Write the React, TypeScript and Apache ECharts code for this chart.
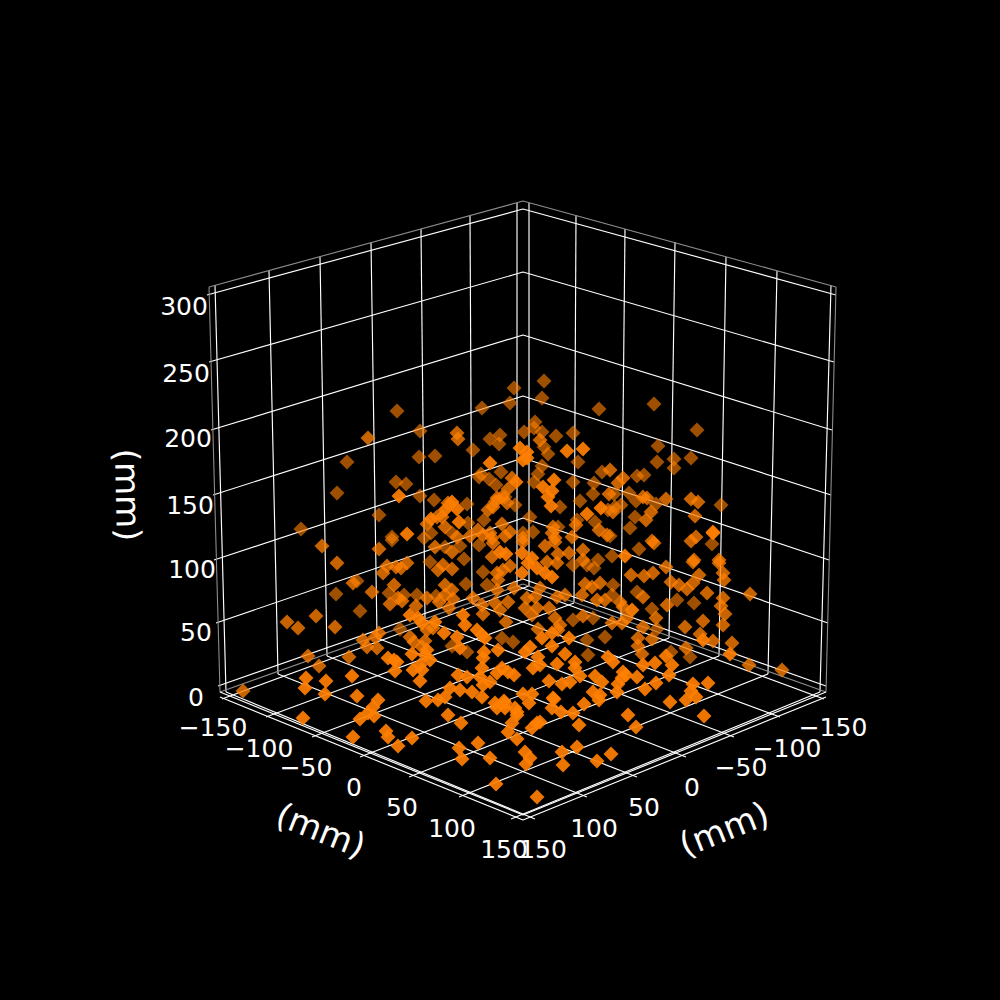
import React, { useEffect, useRef } from "react";
import * as echarts from "echarts";

// Points as they appear in the projected view (page-scale units), grouped by depth shading.
const farPoints: number[][] = [
  [397,411],[420,431],[347,462],[419,457],[435,456],[396,482],[406,484],[337,493],[420,496],[434,500],[379,515],[301,529],[392,537],[424,538],[431,533],
  [544,381],[514,388],[542,398],[510,403],[482,408],[599,409],[535,422],[534,428],[524,432],[542,432],[556,436],[573,433],[490,439],[500,435],[499,444],[473,450],[544,447],[548,454],[578,462],[501,472],[481,474],[479,477],[489,479],[496,485],[542,466],[538,474],[534,482],[573,482],[594,483],[602,472],[593,494],[580,501],[560,507],[505,497],[515,505],[484,520],[467,504],[468,523],[452,533],[530,517],[533,532],[523,533],[558,527],[577,520],[595,522],[608,510],
  [654,404],[697,430],[658,446],[657,462],[674,459],[674,468],[691,458],[637,476],[644,475],[629,493],[614,494],[636,501],[656,504],[721,505],[621,505],[615,507],[635,517],[630,528],[610,536],[639,549],[712,544],[612,556],
  [392,540],[430,562],[357,581],[404,595],[417,595],[436,596],[336,594],[389,593],[360,611],[400,629],[464,559],[460,546],[483,572],[466,584],[487,585],[573,565],[587,565],[594,568],[598,560],[479,545],[445,547],[573,620],[593,618],[605,637],[587,640],[588,655],[513,642],[502,638],[452,646],[467,652],[613,585],[612,595],[637,592],[677,600],[694,603],[652,609],[657,629],[690,657],[671,652],
];
const midPoints: number[][] = [
  [368,438],[457,433],[458,439],[540,440],[512,478],[508,489],[497,498],[495,502],[502,497],[507,503],[488,510],[493,507],[448,503],[442,517],[445,527],[457,537],[470,536],[478,530],[483,535],[490,533],[502,524],[510,532],[492,538],[505,536],[523,538],[553,527],[552,533],[555,538],[576,525],[572,537],[599,530],[607,535],[609,494],[427,524],[437,517],
  [623,478],[618,483],[610,470],[643,497],[647,498],[666,499],[691,499],[698,502],[613,512],[651,512],[646,520],[695,516],[652,541],[654,543],[696,537],[691,541],[713,532],[694,560],[719,560],
  [322,546],[379,549],[337,563],[435,547],[407,563],[396,567],[401,568],[387,566],[383,573],[438,570],[353,583],[394,585],[372,592],[427,598],[398,598],[402,601],[390,604],[416,606],[439,602],[316,616],[287,622],[298,628],[335,627],[427,630],[433,628],[410,637],[414,642],[425,641],[422,647],[379,633],[375,637],[363,640],[367,647],[377,648],[349,657],[308,656],[319,666],
  [523,542],[452,552],[443,565],[452,569],[492,557],[493,543],[545,546],[555,542],[558,554],[569,553],[583,550],[583,560],[547,562],[557,563],[497,573],[510,566],[503,570],[498,580],[452,590],[445,585],[453,599],[445,595],[449,608],[473,598],[495,603],[482,605],[483,614],[500,610],[508,602],[506,622],[514,588],[497,590],[527,598],[525,608],[535,597],[537,608],[532,615],[549,608],[557,597],[565,595],[540,588],[582,595],[585,584],[600,583],[592,587],[597,600],[605,600],[583,616],[555,618],[560,625],[558,630],[538,629],
  [693,562],[719,563],[666,567],[631,575],[644,576],[653,573],[699,575],[723,573],[724,580],[671,582],[679,585],[687,589],[693,583],[707,593],[750,594],[643,597],[667,605],[723,598],[721,606],[725,614],[620,602],[623,607],[656,618],[703,621],[685,627],[723,625],[627,618],[622,623],[612,623],[643,627],[638,638],[652,639],[638,646],[642,654],[700,634],[713,641],[732,643],[686,648],[749,665],[782,670],[243,691],
];
const nearPoints: number[][] = [
  [399,496],[407,534],[431,519],[567,451],[583,449],[490,463],[520,448],[527,452],[527,458],[523,460],[554,480],[543,487],[552,491],[548,497],[551,506],[601,508],[587,514],[516,482],[457,509],[452,502],[445,510],[459,522],
  [625,556],[713,533],
  [430,660],[410,615],[418,618],[422,623],[435,622],[388,658],[394,660],[397,662],[395,671],[412,654],[427,650],[425,655],[420,665],[413,670],[422,670],[420,681],[352,676],[306,678],[326,681],[305,688],[325,694],[357,696],[378,700],[373,707],[426,701],[438,700],
  [500,552],[506,554],[522,553],[532,558],[552,577],[545,573],[537,568],[528,563],[522,573],[463,615],[465,625],[444,633],[457,637],[477,630],[482,635],[485,638],[460,648],[498,650],[484,652],[483,658],[525,652],[530,647],[542,638],[552,633],[552,646],[569,638],[565,654],[575,662],[575,668],[608,657],[538,657],[533,668],[540,665],[557,664],[482,668],[502,668],[497,673],[508,672],[514,675],[458,675],[467,677],[480,677],[483,685],[490,682],[460,690],[472,692],[450,688],[445,697],[482,697],[549,681],[562,684],[570,682],[580,676],[595,676],[602,682],[593,692],[600,695],[523,694],[532,694],[553,698],[529,703],[584,704],[495,703],[505,703],[497,708],[515,708],[552,708],
  [632,610],[703,640],[730,654],[666,656],[655,663],[672,665],[643,665],[613,662],[669,675],[623,672],[626,675],[637,677],[622,678],[618,684],[656,683],[645,689],[617,692],[693,684],[708,683],[691,691],[696,697],[686,700],[670,702],[628,715],[704,716],[636,727],
  [303,718],[368,713],[374,716],[360,719],[353,737],[386,731],[388,737],[398,746],[412,738],
  [448,715],[461,723],[459,748],[462,759],[478,743],[490,758],[496,784],[537,797],[504,701],[505,708],[517,712],[517,715],[512,723],[508,732],[517,739],[540,722],[537,723],[532,728],[525,752],[530,758],[526,764],[562,752],[563,765],[577,747],[597,761],[611,754],[579,725],[573,713],[561,712],[554,699],[599,700],
];

const zTicks = ["0", "50", "100", "150", "200", "250", "300"];
const xTicks = ["\u2212150", "\u2212100", "\u221250", "0", "50", "100", "150"];
const yTicks = ["\u2212150", "\u2212100", "\u221250", "0", "50", "100", "150"];
const axisLabel = "(mm)";

// Projected outlines of the three panes and their grid
const paneOutline = [[209,287],[523,201],[836,287],[826,692],[523,584],[220,692],[209,287]];
const floorEdge = [[220,692],[523,815],[826,692]];
const axisEdge = [[220,697],[523,820],[826,697]];
const zGridLeft = [[218,686],[216,623],[214,560],[213,495],[211,430],[209,362],[207,295]];
const zGridBack = [[523,579],[523,518],[523,458],[523,396],[523,335],[523,272],[523,209]];
const zGridRight = [[826,686],[828,623],[829,560],[831,495],[832,430],[834,362],[836,295]];
const leftTop = [[215,285],[269,271],[320,257],[371,242],[421,229],[470,215],[517,203]];
const leftBottom = [[226,692],[278,674],[327,656],[377,638],[425,620],[472,603],[517,586]];
const rightTop = [[831,285],[777,271],[726,257],[675,242],[625,229],[576,215],[529,203]];
const rightBottom = [[820,692],[768,674],[719,656],[669,638],[621,620],[574,603],[529,586]];
const leftStubs = [[222,699],[266,717],[312,737],[360,757],[409,777],[459,797],[511,819]];
const rightStubs = [[824,699],[780,717],[734,737],[686,757],[637,777],[587,797],[535,819]];

const zLabelPos = [[196,697],[196,632],[192,569],[190,505],[188,438],[186,373],[184,306]];
const xLabelPos = [[213,727],[259,748],[306,767],[354,787],[402,807],[452,828],[504,849]];
const yLabelPos = [[833,727],[787,748],[741,767],[692,787],[644,807],[594,828],[543,849]];

const FONT = '"DejaVu Sans"';

function lineSeries(points: number[][], color: string, width: number) {
  return {
    type: "line",
    data: points,
    showSymbol: false,
    silent: true,
    z: 1,
    lineStyle: { color, width },
  };
}

function scatterSeries(name: string, points: number[][], opacity: number, z: number) {
  return {
    name,
    type: "scatter",
    data: points,
    symbol: "diamond",
    symbolSize: 15,
    silent: true,
    z,
    itemStyle: { color: "#ff7f00", opacity },
  };
}

function tickText(text: string, p: number[]) {
  return {
    type: "text",
    x: p[0],
    y: p[1],
    silent: true,
    style: { text, fill: "#fff", font: `25px ${FONT}`, align: "center", verticalAlign: "middle" },
  };
}

function titleText(p: number[], rotation: number) {
  return {
    type: "text",
    x: p[0],
    y: p[1],
    rotation,
    silent: true,
    style: { text: axisLabel, fill: "#fff", font: `34px ${FONT}`, align: "center", verticalAlign: "middle" },
  };
}

export default function App() {
  const ref = useRef<HTMLDivElement>(null);
  useEffect(() => {
    document.body.style.margin = "0";
    document.body.style.background = "#000";
    const chart = echarts.init(ref.current!, undefined, { renderer: "svg" });
    const grid = "#ffffff";
    const gridWidth = 1.15;
    const series: any[] = [];
    zGridLeft.forEach((p, i) => {
      series.push(lineSeries([p, zGridBack[i], zGridRight[i]], grid, gridWidth));
    });
    leftTop.forEach((p, i) => series.push(lineSeries([p, leftBottom[i]], grid, gridWidth)));
    rightTop.forEach((p, i) => series.push(lineSeries([p, rightBottom[i]], grid, gridWidth)));
    leftStubs.forEach((p, i) => series.push(lineSeries([p, rightBottom[6 - i]], grid, gridWidth)));
    rightStubs.forEach((p, i) => series.push(lineSeries([p, leftBottom[6 - i]], grid, gridWidth)));
    series.push(lineSeries(paneOutline, "#8c8c8c", 1.1));
    series.push(lineSeries(floorEdge, grid, gridWidth));
    series.push(lineSeries(axisEdge, grid, gridWidth));
    series.push(scatterSeries("far", farPoints, 0.62, 2));
    series.push(scatterSeries("mid", midPoints, 0.78, 3));
    series.push(scatterSeries("near", nearPoints, 0.92, 4));

    chart.setOption({
      animation: false,
      backgroundColor: "#000",
      grid: { left: 0, right: 0, top: 0, bottom: 0 },
      xAxis: { type: "value", min: 0, max: 1000, show: false },
      yAxis: { type: "value", min: 0, max: 1000, inverse: true, show: false },
      series,
      graphic: {
        elements: [
          ...zTicks.map((t, i) => tickText(t, zLabelPos[i])),
          ...xTicks.map((t, i) => tickText(t, xLabelPos[i])),
          ...yTicks.map((t, i) => tickText(t, yLabelPos[i])),
          titleText([321, 830], -0.38),
          titleText([724, 829], 0.38),
          titleText([128, 495], -1.55),
        ],
      },
    });
    return () => chart.dispose();
  }, []);
  return <div ref={ref} style={{ width: 1000, height: 1000 }} />;
}
